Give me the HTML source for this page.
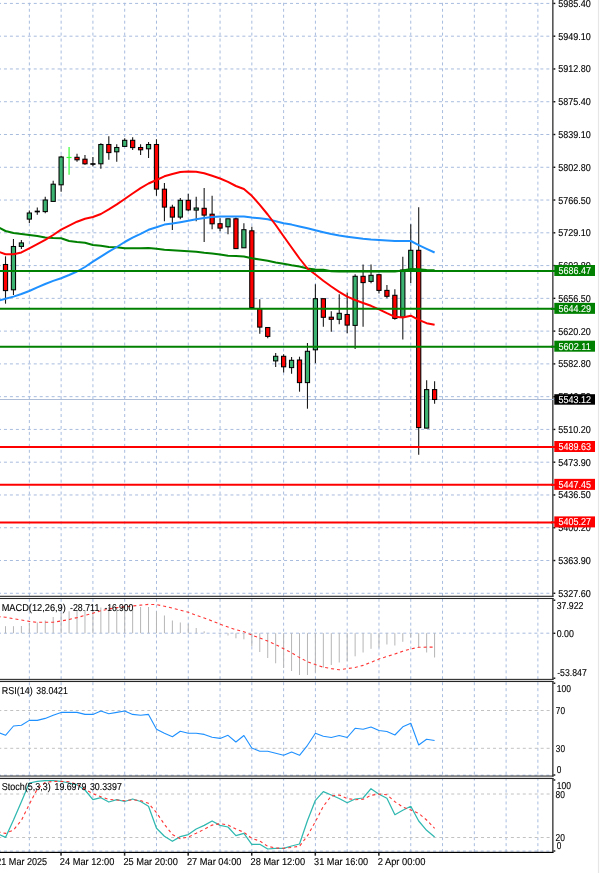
<!DOCTYPE html>
<html lang="en">
<head>
<meta charset="utf-8">
<title>Chart</title>
<style>
html,body{margin:0;padding:0;background:#fff;width:600px;height:873px;}
body{width:600px;height:873px;overflow:hidden;font-family:"Liberation Sans", Arial, sans-serif;}
svg{display:block;}
svg text{stroke:#000;stroke-width:0.12px;paint-order:stroke;}
svg text.w{stroke:#fff;stroke-width:0.1px;}
</style>
</head>
<body>
<svg width="600" height="873" viewBox="0 0 600 873" font-family='"Liberation Sans", Arial, sans-serif' font-size="10px" text-rendering="geometricPrecision">
<rect x="0" y="0" width="600" height="873" fill="#ffffff"/>
<g stroke="#a8bcde" stroke-width="1" stroke-dasharray="3 2.96" fill="none">
<line x1="29.35" y1="-3.16" x2="29.35" y2="852"/>
<line x1="61.13" y1="-3.16" x2="61.13" y2="852"/>
<line x1="92.92" y1="-3.16" x2="92.92" y2="852"/>
<line x1="124.70" y1="-3.16" x2="124.70" y2="852"/>
<line x1="156.49" y1="-3.16" x2="156.49" y2="852"/>
<line x1="188.27" y1="-3.16" x2="188.27" y2="852"/>
<line x1="220.05" y1="-3.16" x2="220.05" y2="852"/>
<line x1="251.84" y1="-3.16" x2="251.84" y2="852"/>
<line x1="283.62" y1="-3.16" x2="283.62" y2="852"/>
<line x1="315.41" y1="-3.16" x2="315.41" y2="852"/>
<line x1="347.19" y1="-3.16" x2="347.19" y2="852"/>
<line x1="378.97" y1="-3.16" x2="378.97" y2="852"/>
<line x1="410.76" y1="-3.16" x2="410.76" y2="852"/>
<line x1="442.54" y1="-3.16" x2="442.54" y2="852"/>
<line x1="474.33" y1="-3.16" x2="474.33" y2="852"/>
<line x1="506.11" y1="-3.16" x2="506.11" y2="852"/>
<line x1="537.89" y1="-3.16" x2="537.89" y2="852"/>
<line x1="-2" y1="3.42" x2="553.0" y2="3.42"/>
<line x1="-2" y1="36.19" x2="553.0" y2="36.19"/>
<line x1="-2" y1="68.96" x2="553.0" y2="68.96"/>
<line x1="-2" y1="101.73" x2="553.0" y2="101.73"/>
<line x1="-2" y1="134.50" x2="553.0" y2="134.50"/>
<line x1="-2" y1="167.27" x2="553.0" y2="167.27"/>
<line x1="-2" y1="200.04" x2="553.0" y2="200.04"/>
<line x1="-2" y1="232.81" x2="553.0" y2="232.81"/>
<line x1="-2" y1="265.58" x2="553.0" y2="265.58"/>
<line x1="-2" y1="298.35" x2="553.0" y2="298.35"/>
<line x1="-2" y1="331.12" x2="553.0" y2="331.12"/>
<line x1="-2" y1="363.89" x2="553.0" y2="363.89"/>
<line x1="-2" y1="396.66" x2="553.0" y2="396.66"/>
<line x1="-2" y1="429.43" x2="553.0" y2="429.43"/>
<line x1="-2" y1="462.20" x2="553.0" y2="462.20"/>
<line x1="-2" y1="494.97" x2="553.0" y2="494.97"/>
<line x1="-2" y1="527.74" x2="553.0" y2="527.74"/>
<line x1="-2" y1="560.51" x2="553.0" y2="560.51"/>
<line x1="-2" y1="593.28" x2="553.0" y2="593.28"/>
<line x1="-2" y1="633.20" x2="553.0" y2="633.20"/>
<line x1="-2" y1="775.20" x2="553.0" y2="775.20"/>
<line x1="-2" y1="851.10" x2="553.0" y2="851.10"/>
</g>
<g stroke="#c2c2c2" stroke-width="1" stroke-dasharray="3 2.96" fill="none">
<line x1="-1.7" y1="710.50" x2="553.0" y2="710.50"/>
<line x1="-1.7" y1="748.30" x2="553.0" y2="748.30"/>
<line x1="-1.7" y1="794.00" x2="553.0" y2="794.00"/>
<line x1="-1.7" y1="837.50" x2="553.0" y2="837.50"/>
</g>
<line x1="0" y1="399.5" x2="553.0" y2="399.5" stroke="#adbdd8" stroke-width="1"/>
<g>
<line x1="5.51" y1="256.3" x2="5.51" y2="303.7" stroke="#1a1a1a" stroke-width="1.1"/>
<rect x="3.41" y="264.50" width="4.2" height="26.10" fill="#ff0000" stroke="#000" stroke-width="1.05"/>
<line x1="13.46" y1="239.0" x2="13.46" y2="295.0" stroke="#1a1a1a" stroke-width="1.1"/>
<rect x="11.36" y="246.50" width="4.2" height="43.30" fill="#3cb371" stroke="#000" stroke-width="1.05"/>
<line x1="21.40" y1="240.0" x2="21.40" y2="249.0" stroke="#1a1a1a" stroke-width="1.1"/>
<rect x="19.30" y="242.90" width="4.2" height="3.50" fill="#3cb371" stroke="#000" stroke-width="1.05"/>
<line x1="29.35" y1="210.5" x2="29.35" y2="223.0" stroke="#1a1a1a" stroke-width="1.1"/>
<rect x="27.25" y="213.00" width="4.2" height="6.10" fill="#3cb371" stroke="#000" stroke-width="1.05"/>
<line x1="37.29" y1="207.5" x2="37.29" y2="214.7" stroke="#1a1a1a" stroke-width="1.1"/>
<line x1="34.69" y1="211.5" x2="39.89" y2="211.5" stroke="#000" stroke-width="1.7"/>
<line x1="45.24" y1="196.7" x2="45.24" y2="213.3" stroke="#1a1a1a" stroke-width="1.1"/>
<rect x="43.14" y="200.00" width="4.2" height="11.60" fill="#3cb371" stroke="#000" stroke-width="1.05"/>
<line x1="53.19" y1="180.8" x2="53.19" y2="201.3" stroke="#1a1a1a" stroke-width="1.1"/>
<rect x="51.09" y="184.20" width="4.2" height="17.20" fill="#3cb371" stroke="#000" stroke-width="1.05"/>
<line x1="61.13" y1="155.8" x2="61.13" y2="191.7" stroke="#1a1a1a" stroke-width="1.1"/>
<rect x="59.03" y="157.00" width="4.2" height="27.80" fill="#3cb371" stroke="#000" stroke-width="1.05"/>
<line x1="69.08" y1="147.0" x2="69.08" y2="174.7" stroke="#33ff33" stroke-width="1.2"/>
<line x1="66.58" y1="157.5" x2="71.58" y2="157.5" stroke="#33ff33" stroke-width="1.2"/>
<line x1="77.02" y1="153.8" x2="77.02" y2="161.7" stroke="#1a1a1a" stroke-width="1.1"/>
<rect x="74.92" y="157.30" width="4.2" height="2.50" fill="#ff0000" stroke="#000" stroke-width="1.05"/>
<line x1="84.97" y1="155.0" x2="84.97" y2="164.7" stroke="#1a1a1a" stroke-width="1.1"/>
<rect x="82.87" y="159.20" width="4.2" height="4.60" fill="#ff0000" stroke="#000" stroke-width="1.05"/>
<line x1="92.92" y1="157.0" x2="92.92" y2="166.2" stroke="#1a1a1a" stroke-width="1.1"/>
<line x1="90.32" y1="164.0" x2="95.52" y2="164.0" stroke="#000" stroke-width="1.7"/>
<line x1="100.86" y1="143.3" x2="100.86" y2="168.7" stroke="#1a1a1a" stroke-width="1.1"/>
<rect x="98.76" y="144.50" width="4.2" height="19.30" fill="#3cb371" stroke="#000" stroke-width="1.05"/>
<line x1="108.81" y1="136.2" x2="108.81" y2="159.7" stroke="#1a1a1a" stroke-width="1.1"/>
<rect x="106.71" y="144.50" width="4.2" height="8.10" fill="#ff0000" stroke="#000" stroke-width="1.05"/>
<line x1="116.75" y1="144.2" x2="116.75" y2="161.7" stroke="#1a1a1a" stroke-width="1.1"/>
<rect x="114.65" y="147.50" width="4.2" height="4.30" fill="#3cb371" stroke="#000" stroke-width="1.05"/>
<line x1="124.70" y1="138.3" x2="124.70" y2="146.3" stroke="#1a1a1a" stroke-width="1.1"/>
<rect x="122.60" y="140.30" width="4.2" height="6.10" fill="#3cb371" stroke="#000" stroke-width="1.05"/>
<line x1="132.65" y1="137.2" x2="132.65" y2="150.0" stroke="#1a1a1a" stroke-width="1.1"/>
<rect x="130.55" y="140.30" width="4.2" height="7.30" fill="#ff0000" stroke="#000" stroke-width="1.05"/>
<line x1="140.59" y1="144.2" x2="140.59" y2="155.0" stroke="#1a1a1a" stroke-width="1.1"/>
<rect x="138.49" y="147.50" width="4.2" height="2.30" fill="#ff0000" stroke="#000" stroke-width="1.05"/>
<line x1="148.54" y1="142.0" x2="148.54" y2="158.0" stroke="#1a1a1a" stroke-width="1.1"/>
<rect x="146.44" y="144.50" width="4.2" height="4.30" fill="#3cb371" stroke="#000" stroke-width="1.05"/>
<line x1="156.48" y1="139.2" x2="156.48" y2="195.8" stroke="#1a1a1a" stroke-width="1.1"/>
<rect x="154.38" y="144.50" width="4.2" height="44.60" fill="#ff0000" stroke="#000" stroke-width="1.05"/>
<line x1="164.43" y1="183.0" x2="164.43" y2="221.3" stroke="#1a1a1a" stroke-width="1.1"/>
<rect x="162.33" y="189.20" width="4.2" height="17.90" fill="#ff0000" stroke="#000" stroke-width="1.05"/>
<line x1="172.38" y1="204.7" x2="172.38" y2="230.0" stroke="#1a1a1a" stroke-width="1.1"/>
<rect x="170.28" y="207.20" width="4.2" height="9.90" fill="#ff0000" stroke="#000" stroke-width="1.05"/>
<line x1="180.32" y1="198.0" x2="180.32" y2="219.2" stroke="#1a1a1a" stroke-width="1.1"/>
<rect x="178.22" y="200.30" width="4.2" height="16.80" fill="#3cb371" stroke="#000" stroke-width="1.05"/>
<line x1="188.27" y1="193.8" x2="188.27" y2="211.3" stroke="#1a1a1a" stroke-width="1.1"/>
<rect x="186.17" y="200.30" width="4.2" height="9.60" fill="#ff0000" stroke="#000" stroke-width="1.05"/>
<line x1="196.21" y1="196.7" x2="196.21" y2="221.3" stroke="#1a1a1a" stroke-width="1.1"/>
<rect x="194.11" y="208.00" width="4.2" height="2.10" fill="#3cb371" stroke="#000" stroke-width="1.05"/>
<line x1="204.16" y1="188.0" x2="204.16" y2="242.0" stroke="#1a1a1a" stroke-width="1.1"/>
<rect x="202.06" y="208.30" width="4.2" height="6.80" fill="#ff0000" stroke="#000" stroke-width="1.05"/>
<line x1="212.11" y1="195.8" x2="212.11" y2="229.2" stroke="#1a1a1a" stroke-width="1.1"/>
<rect x="210.01" y="214.20" width="4.2" height="9.60" fill="#ff0000" stroke="#000" stroke-width="1.05"/>
<line x1="220.05" y1="218.3" x2="220.05" y2="231.3" stroke="#1a1a1a" stroke-width="1.1"/>
<rect x="217.95" y="223.70" width="4.2" height="4.40" fill="#ff0000" stroke="#000" stroke-width="1.05"/>
<line x1="228.00" y1="218.8" x2="228.00" y2="234.2" stroke="#1a1a1a" stroke-width="1.1"/>
<rect x="225.90" y="218.80" width="4.2" height="8.00" fill="#3cb371" stroke="#000" stroke-width="1.05"/>
<line x1="235.94" y1="217.5" x2="235.94" y2="248.5" stroke="#1a1a1a" stroke-width="1.1"/>
<rect x="233.84" y="218.80" width="4.2" height="29.80" fill="#ff0000" stroke="#000" stroke-width="1.05"/>
<line x1="243.89" y1="223.3" x2="243.89" y2="247.7" stroke="#1a1a1a" stroke-width="1.1"/>
<rect x="241.79" y="229.70" width="4.2" height="18.10" fill="#3cb371" stroke="#000" stroke-width="1.05"/>
<line x1="251.84" y1="226.7" x2="251.84" y2="309.0" stroke="#1a1a1a" stroke-width="1.1"/>
<rect x="249.74" y="230.80" width="4.2" height="76.80" fill="#ff0000" stroke="#000" stroke-width="1.05"/>
<line x1="259.78" y1="299.2" x2="259.78" y2="333.7" stroke="#1a1a1a" stroke-width="1.1"/>
<rect x="257.68" y="308.70" width="4.2" height="18.40" fill="#ff0000" stroke="#000" stroke-width="1.05"/>
<line x1="267.73" y1="327.5" x2="267.73" y2="338.3" stroke="#1a1a1a" stroke-width="1.1"/>
<rect x="265.63" y="327.50" width="4.2" height="8.90" fill="#ff0000" stroke="#000" stroke-width="1.05"/>
<line x1="275.67" y1="353.0" x2="275.67" y2="367.0" stroke="#1a1a1a" stroke-width="1.1"/>
<rect x="273.57" y="356.30" width="4.2" height="4.60" fill="#3cb371" stroke="#000" stroke-width="1.05"/>
<line x1="283.62" y1="354.2" x2="283.62" y2="372.5" stroke="#1a1a1a" stroke-width="1.1"/>
<rect x="281.52" y="356.30" width="4.2" height="10.50" fill="#ff0000" stroke="#000" stroke-width="1.05"/>
<line x1="291.57" y1="357.0" x2="291.57" y2="373.8" stroke="#1a1a1a" stroke-width="1.1"/>
<rect x="289.47" y="360.30" width="4.2" height="7.30" fill="#3cb371" stroke="#000" stroke-width="1.05"/>
<line x1="299.51" y1="356.7" x2="299.51" y2="391.7" stroke="#1a1a1a" stroke-width="1.1"/>
<rect x="297.41" y="360.00" width="4.2" height="22.60" fill="#ff0000" stroke="#000" stroke-width="1.05"/>
<line x1="307.46" y1="343.0" x2="307.46" y2="408.7" stroke="#1a1a1a" stroke-width="1.1"/>
<rect x="305.36" y="351.30" width="4.2" height="31.30" fill="#3cb371" stroke="#000" stroke-width="1.05"/>
<line x1="315.40" y1="284.2" x2="315.40" y2="363.3" stroke="#1a1a1a" stroke-width="1.1"/>
<rect x="313.30" y="298.70" width="4.2" height="51.10" fill="#3cb371" stroke="#000" stroke-width="1.05"/>
<line x1="323.35" y1="298.7" x2="323.35" y2="326.7" stroke="#1a1a1a" stroke-width="1.1"/>
<rect x="321.25" y="298.70" width="4.2" height="18.60" fill="#ff0000" stroke="#000" stroke-width="1.05"/>
<line x1="331.30" y1="311.3" x2="331.30" y2="331.7" stroke="#1a1a1a" stroke-width="1.1"/>
<rect x="329.20" y="317.20" width="4.2" height="2.10" fill="#ff0000" stroke="#000" stroke-width="1.05"/>
<line x1="339.24" y1="294.2" x2="339.24" y2="324.2" stroke="#1a1a1a" stroke-width="1.1"/>
<rect x="337.14" y="313.30" width="4.2" height="6.00" fill="#3cb371" stroke="#000" stroke-width="1.05"/>
<line x1="347.19" y1="292.5" x2="347.19" y2="333.3" stroke="#1a1a1a" stroke-width="1.1"/>
<rect x="345.09" y="314.50" width="4.2" height="10.60" fill="#ff0000" stroke="#000" stroke-width="1.05"/>
<line x1="355.13" y1="274.2" x2="355.13" y2="349.0" stroke="#1a1a1a" stroke-width="1.1"/>
<rect x="353.03" y="276.30" width="4.2" height="49.10" fill="#3cb371" stroke="#000" stroke-width="1.05"/>
<line x1="363.08" y1="264.5" x2="363.08" y2="326.7" stroke="#1a1a1a" stroke-width="1.1"/>
<rect x="360.98" y="276.30" width="4.2" height="6.30" fill="#ff0000" stroke="#000" stroke-width="1.05"/>
<line x1="371.03" y1="264.5" x2="371.03" y2="283.3" stroke="#1a1a1a" stroke-width="1.1"/>
<rect x="368.93" y="275.30" width="4.2" height="6.10" fill="#3cb371" stroke="#000" stroke-width="1.05"/>
<line x1="378.97" y1="274.7" x2="378.97" y2="293.5" stroke="#1a1a1a" stroke-width="1.1"/>
<rect x="376.87" y="274.70" width="4.2" height="15.70" fill="#ff0000" stroke="#000" stroke-width="1.05"/>
<line x1="386.92" y1="285.0" x2="386.92" y2="298.3" stroke="#1a1a1a" stroke-width="1.1"/>
<rect x="384.82" y="290.40" width="4.2" height="5.90" fill="#ff0000" stroke="#000" stroke-width="1.05"/>
<line x1="394.86" y1="289.2" x2="394.86" y2="319.7" stroke="#1a1a1a" stroke-width="1.1"/>
<rect x="392.76" y="295.30" width="4.2" height="23.10" fill="#ff0000" stroke="#000" stroke-width="1.05"/>
<line x1="402.81" y1="256.7" x2="402.81" y2="339.5" stroke="#1a1a1a" stroke-width="1.1"/>
<rect x="400.71" y="270.00" width="4.2" height="47.10" fill="#3cb371" stroke="#000" stroke-width="1.05"/>
<line x1="410.76" y1="224.2" x2="410.76" y2="283.0" stroke="#1a1a1a" stroke-width="1.1"/>
<rect x="408.66" y="250.30" width="4.2" height="20.30" fill="#3cb371" stroke="#000" stroke-width="1.05"/>
<line x1="418.70" y1="207.2" x2="418.70" y2="454.7" stroke="#1a1a1a" stroke-width="1.1"/>
<rect x="416.60" y="250.30" width="4.2" height="177.30" fill="#ff0000" stroke="#000" stroke-width="1.05"/>
<line x1="426.65" y1="380.3" x2="426.65" y2="428.3" stroke="#1a1a1a" stroke-width="1.1"/>
<rect x="424.55" y="389.60" width="4.2" height="38.50" fill="#3cb371" stroke="#000" stroke-width="1.05"/>
<line x1="434.59" y1="381.3" x2="434.59" y2="403.8" stroke="#1a1a1a" stroke-width="1.1"/>
<rect x="432.49" y="389.60" width="4.2" height="9.90" fill="#ff0000" stroke="#000" stroke-width="1.05"/>
</g>
<polyline points="-2.4,227.0 5.5,231.0 13.5,233.0 21.4,234.0 29.3,235.0 37.3,236.0 45.2,237.4 53.2,238.0 61.1,238.3 69.1,241.0 77.0,242.0 85.0,242.7 92.9,245.0 100.9,245.7 108.8,247.0 116.8,247.3 124.7,248.3 132.6,248.3 140.6,248.2 148.5,248.0 156.5,248.7 164.4,249.8 172.4,250.2 180.3,250.8 188.3,251.3 196.2,251.7 204.2,252.8 212.1,253.5 220.1,254.5 228.0,255.8 235.9,256.0 243.9,256.5 251.8,258.3 259.8,259.5 267.7,260.7 275.7,262.5 283.6,263.7 291.6,265.2 299.5,266.5 307.5,268.5 315.4,269.6 323.3,269.8 331.3,271.2 339.2,271.4 347.2,271.4 355.1,271.4 363.1,271.4 371.0,271.4 379.0,271.4 386.9,271.4 394.9,271.4 402.8,270.4 410.8,269.0 418.7,269.3 426.6,270.0 434.6,270.2" fill="none" stroke="#008000" stroke-width="2" stroke-linejoin="round" stroke-linecap="butt"/>
<polyline points="-2.4,301.0 5.5,298.8 13.5,296.6 21.4,294.0 29.3,291.0 37.3,287.3 45.2,284.0 53.2,280.9 61.1,278.2 69.1,275.0 77.0,271.5 85.0,267.0 92.9,261.7 100.9,256.6 108.8,251.7 116.8,247.0 124.7,242.0 132.6,237.7 140.6,233.9 148.5,229.8 156.5,227.3 164.4,224.6 172.4,223.6 180.3,222.2 188.3,220.8 196.2,219.2 204.2,217.9 212.1,216.9 220.1,216.5 228.0,216.5 235.9,216.5 243.9,216.5 251.8,217.5 259.8,218.3 267.7,219.3 275.7,221.3 283.6,223.2 291.6,224.6 299.5,226.4 307.5,228.2 315.4,230.3 323.3,232.2 331.3,234.0 339.2,235.5 347.2,236.7 355.1,237.8 363.1,238.8 371.0,239.6 379.0,240.0 386.9,240.5 394.9,241.0 402.8,241.0 410.8,241.0 418.7,245.2 426.6,248.8 434.6,252.5" fill="none" stroke="#1e90ff" stroke-width="2" stroke-linejoin="round" stroke-linecap="butt"/>
<polyline points="-2.4,251.3 5.5,254.3 13.5,254.2 21.4,252.4 29.3,248.4 37.3,244.2 45.2,239.9 53.2,235.0 61.1,229.6 69.1,225.7 77.0,221.7 85.0,218.7 92.9,217.0 100.9,214.0 108.8,209.4 116.8,204.4 124.7,199.0 132.6,193.5 140.6,188.2 148.5,183.5 156.5,180.0 164.4,176.3 172.4,174.0 180.3,172.0 188.3,171.5 196.2,171.7 204.2,173.3 212.1,175.8 220.1,178.5 228.0,181.8 235.9,186.0 243.9,189.0 251.8,195.8 259.8,204.8 267.7,214.5 275.7,225.0 283.6,236.3 291.6,247.5 299.5,258.5 307.5,268.5 315.4,274.5 323.3,280.8 331.3,286.5 339.2,291.8 347.2,296.7 355.1,300.0 363.1,303.0 371.0,305.8 379.0,309.3 386.9,313.2 394.9,316.8 402.8,317.5 410.8,315.7 418.7,319.8 426.6,323.2 434.6,324.7" fill="none" stroke="#ff0000" stroke-width="2" stroke-linejoin="round" stroke-linecap="butt"/>
<line x1="0" y1="271.0" x2="553.0" y2="271.0" stroke="#008000" stroke-width="2"/>
<line x1="0" y1="308.85" x2="553.0" y2="308.85" stroke="#008000" stroke-width="2"/>
<line x1="0" y1="346.7" x2="553.0" y2="346.7" stroke="#008000" stroke-width="2"/>
<line x1="0" y1="447.0" x2="553.0" y2="447.0" stroke="#ff0000" stroke-width="2"/>
<line x1="0" y1="484.85" x2="553.0" y2="484.85" stroke="#ff0000" stroke-width="2"/>
<line x1="0" y1="522.4" x2="553.0" y2="522.4" stroke="#ff0000" stroke-width="2"/>
<g stroke="#b6b6b6" stroke-width="1">
<line x1="5.51" y1="633.2" x2="5.51" y2="626.2"/>
<line x1="13.46" y1="633.2" x2="13.46" y2="626.2"/>
<line x1="21.40" y1="633.2" x2="21.40" y2="626.0"/>
<line x1="29.35" y1="633.2" x2="29.35" y2="623.0"/>
<line x1="37.29" y1="633.2" x2="37.29" y2="622.5"/>
<line x1="45.24" y1="633.2" x2="45.24" y2="620.5"/>
<line x1="53.19" y1="633.2" x2="53.19" y2="617.0"/>
<line x1="61.13" y1="633.2" x2="61.13" y2="613.0"/>
<line x1="69.08" y1="633.2" x2="69.08" y2="611.3"/>
<line x1="77.02" y1="633.2" x2="77.02" y2="610.5"/>
<line x1="84.97" y1="633.2" x2="84.97" y2="610.0"/>
<line x1="92.92" y1="633.2" x2="92.92" y2="609.5"/>
<line x1="100.86" y1="633.2" x2="100.86" y2="607.5"/>
<line x1="108.81" y1="633.2" x2="108.81" y2="607.0"/>
<line x1="116.75" y1="633.2" x2="116.75" y2="607.0"/>
<line x1="124.70" y1="633.2" x2="124.70" y2="605.5"/>
<line x1="132.65" y1="633.2" x2="132.65" y2="605.5"/>
<line x1="140.59" y1="633.2" x2="140.59" y2="607.0"/>
<line x1="148.54" y1="633.2" x2="148.54" y2="607.0"/>
<line x1="156.48" y1="633.2" x2="156.48" y2="611.3"/>
<line x1="164.43" y1="633.2" x2="164.43" y2="615.5"/>
<line x1="172.38" y1="633.2" x2="172.38" y2="620.5"/>
<line x1="180.32" y1="633.2" x2="180.32" y2="622.5"/>
<line x1="188.27" y1="633.2" x2="188.27" y2="623.8"/>
<line x1="196.21" y1="633.2" x2="196.21" y2="628.0"/>
<line x1="204.16" y1="633.2" x2="204.16" y2="631.3"/>
<line x1="220.05" y1="633.2" x2="220.05" y2="634.2"/>
<line x1="228.00" y1="633.2" x2="228.00" y2="635.5"/>
<line x1="235.94" y1="633.2" x2="235.94" y2="638.3"/>
<line x1="243.89" y1="633.2" x2="243.89" y2="639.3"/>
<line x1="251.84" y1="633.2" x2="251.84" y2="646.3"/>
<line x1="259.78" y1="633.2" x2="259.78" y2="652.0"/>
<line x1="267.73" y1="633.2" x2="267.73" y2="658.0"/>
<line x1="275.67" y1="633.2" x2="275.67" y2="663.3"/>
<line x1="283.62" y1="633.2" x2="283.62" y2="668.0"/>
<line x1="291.57" y1="633.2" x2="291.57" y2="671.0"/>
<line x1="299.51" y1="633.2" x2="299.51" y2="675.0"/>
<line x1="307.46" y1="633.2" x2="307.46" y2="675.0"/>
<line x1="315.40" y1="633.2" x2="315.40" y2="672.5"/>
<line x1="323.35" y1="633.2" x2="323.35" y2="667.5"/>
<line x1="331.30" y1="633.2" x2="331.30" y2="665.0"/>
<line x1="339.24" y1="633.2" x2="339.24" y2="662.5"/>
<line x1="347.19" y1="633.2" x2="347.19" y2="661.3"/>
<line x1="355.13" y1="633.2" x2="355.13" y2="656.3"/>
<line x1="363.08" y1="633.2" x2="363.08" y2="652.5"/>
<line x1="371.03" y1="633.2" x2="371.03" y2="648.8"/>
<line x1="378.97" y1="633.2" x2="378.97" y2="647.5"/>
<line x1="386.92" y1="633.2" x2="386.92" y2="644.5"/>
<line x1="394.86" y1="633.2" x2="394.86" y2="645.5"/>
<line x1="402.81" y1="633.2" x2="402.81" y2="641.8"/>
<line x1="410.76" y1="633.2" x2="410.76" y2="637.5"/>
<line x1="418.70" y1="633.2" x2="418.70" y2="647.5"/>
<line x1="426.65" y1="633.2" x2="426.65" y2="652.5"/>
<line x1="434.59" y1="633.2" x2="434.59" y2="657.5"/>
</g>
<polyline points="-2.4,616.6 5.5,617.2 13.5,618.7 21.4,620.0 29.3,621.4 37.3,622.3 45.2,622.3 53.2,622.2 61.1,621.0 69.1,619.5 77.0,617.6 85.0,615.4 92.9,613.2 100.9,610.8 108.8,609.0 116.8,607.6 124.7,606.8 132.6,606.0 140.6,605.1 148.5,604.4 156.5,604.6 164.4,606.2 172.4,608.1 180.3,610.2 188.3,612.2 196.2,615.3 204.2,618.0 212.1,621.0 220.1,624.2 228.0,627.0 235.9,629.7 243.9,631.8 251.8,635.0 259.8,638.0 267.7,641.1 275.7,644.6 283.6,648.7 291.6,652.8 299.5,657.6 307.5,661.7 315.4,664.6 323.3,667.2 331.3,668.6 339.2,669.8 347.2,668.6 355.1,667.5 363.1,665.4 371.0,662.3 379.0,659.0 386.9,656.5 394.9,654.0 402.8,651.2 410.8,648.9 418.7,647.3 426.6,647.1 434.6,647.1" fill="none" stroke="#ff3535" stroke-width="1.1" stroke-linejoin="round" stroke-linecap="butt" stroke-dasharray="3 3"/>
<polyline points="-2.4,732.2 5.5,735.3 13.5,726.0 21.4,725.3 29.3,720.4 37.3,720.4 45.2,718.4 53.2,715.3 61.1,712.4 69.1,712.4 77.0,712.4 85.0,714.4 92.9,714.4 100.9,711.0 108.8,713.7 116.8,712.4 124.7,711.0 132.6,714.4 140.6,715.3 148.5,714.4 156.5,729.3 164.4,733.3 172.4,736.7 180.3,731.3 188.3,733.3 196.2,733.3 204.2,734.4 212.1,737.3 220.1,738.4 228.0,735.3 235.9,742.0 243.9,735.5 251.8,748.0 259.8,751.3 267.7,751.3 275.7,753.3 283.6,755.3 291.6,752.0 299.5,755.3 307.5,745.3 315.4,733.3 323.3,736.3 331.3,737.5 339.2,735.5 347.2,737.5 355.1,728.3 363.1,729.3 371.0,727.0 379.0,730.5 386.9,731.5 394.9,735.0 402.8,726.8 410.8,723.3 418.7,745.0 426.6,739.3 434.6,740.5" fill="none" stroke="#1e90ff" stroke-width="1.1" stroke-linejoin="round" stroke-linecap="butt"/>
<polyline points="-2.4,833.8 5.5,837.4 13.5,820.1 21.4,801.8 29.3,783.0 37.3,781.3 45.2,780.6 53.2,780.6 61.1,781.4 69.1,783.0 77.0,784.8 85.0,790.0 92.9,799.7 100.9,797.7 108.8,802.0 116.8,799.7 124.7,801.5 132.6,799.0 140.6,801.5 148.5,806.3 156.5,828.3 164.4,836.3 172.4,841.3 180.3,836.6 188.3,834.6 196.2,829.0 204.2,825.4 212.1,821.0 220.1,825.4 228.0,827.0 235.9,835.7 243.9,833.3 251.8,844.3 259.8,844.3 267.7,849.0 275.7,848.3 283.6,848.3 291.6,846.0 299.5,844.0 307.5,820.5 315.4,800.3 323.3,791.7 331.3,795.0 339.2,798.5 347.2,802.7 355.1,799.0 363.1,798.0 371.0,788.7 379.0,794.3 386.9,798.3 394.9,814.7 402.8,810.3 410.8,806.3 418.7,821.0 426.6,830.3 434.6,837.0" fill="none" stroke="#2fb8b0" stroke-width="1.25" stroke-linejoin="round" stroke-linecap="butt"/>
<polyline points="-2.4,831.8 5.5,833.4 13.5,830.0 21.4,820.3 29.3,804.3 37.3,789.0 45.2,782.3 53.2,781.4 61.1,781.4 69.1,781.7 77.0,784.3 85.0,789.3 92.9,793.7 100.9,796.7 108.8,799.4 116.8,800.0 124.7,800.7 132.6,799.8 140.6,800.6 148.5,803.3 156.5,812.7 164.4,824.3 172.4,834.6 180.3,838.7 188.3,837.0 196.2,833.3 204.2,829.3 212.1,825.1 220.1,823.7 228.0,825.0 235.9,829.0 243.9,832.3 251.8,838.3 259.8,841.0 267.7,846.3 275.7,848.0 283.6,848.3 291.6,847.4 299.5,846.3 307.5,835.7 315.4,821.7 323.3,806.3 331.3,796.0 339.2,795.0 347.2,798.6 355.1,799.7 363.1,799.3 371.0,795.3 379.0,794.0 386.9,794.7 394.9,801.7 402.8,807.0 410.8,810.0 418.7,813.4 426.6,820.0 434.6,828.3" fill="none" stroke="#ff3535" stroke-width="1.1" stroke-linejoin="round" stroke-linecap="butt" stroke-dasharray="3 3"/>
<rect x="553.0" y="0" width="47.0" height="873" fill="#fff"/>
<rect x="0" y="852.0" width="600" height="21.0" fill="#fff"/>
<line x1="598.5" y1="0" x2="598.5" y2="873" stroke="#e6e6e6" stroke-width="1.2"/>
<rect x="552.2" y="0" width="1.3" height="596.80" fill="#2e2e2e"/>
<rect x="552.2" y="598.0" width="1.3" height="81.90" fill="#2e2e2e"/>
<rect x="552.2" y="681.0" width="1.3" height="95.60" fill="#2e2e2e"/>
<rect x="552.2" y="778.0" width="1.3" height="74.60" fill="#2e2e2e"/>
<rect x="0" y="595.75" width="553.5" height="1.1" fill="#262626"/>
<rect x="0" y="597.95" width="553.5" height="1.1" fill="#262626"/>
<rect x="0" y="678.85" width="553.5" height="1.1" fill="#262626"/>
<rect x="0" y="680.95" width="553.5" height="1.1" fill="#262626"/>
<rect x="0" y="775.55" width="553.5" height="1.1" fill="#262626"/>
<rect x="0" y="777.95" width="553.5" height="1.1" fill="#262626"/>
<rect x="0" y="679.95" width="552.2" height="1" fill="#d4d4d4"/>
<rect x="0" y="776.80" width="552.2" height="1" fill="#d4d4d4"/>
<rect x="0" y="851.8" width="553.5" height="1.2" fill="#000"/>
<g fill="#000">
<rect x="553.4" y="2.72" width="1.9" height="1.4" fill="#111"/>
<text x="558.3" y="6.50" textLength="32.6" lengthAdjust="spacingAndGlyphs">5985.40</text>
<rect x="553.4" y="35.49" width="1.9" height="1.4" fill="#111"/>
<text x="558.3" y="40.00" textLength="32.6" lengthAdjust="spacingAndGlyphs">5949.10</text>
<rect x="553.4" y="68.26" width="1.9" height="1.4" fill="#111"/>
<text x="558.3" y="72.00" textLength="32.6" lengthAdjust="spacingAndGlyphs">5912.80</text>
<rect x="553.4" y="101.03" width="1.9" height="1.4" fill="#111"/>
<text x="558.3" y="105.00" textLength="32.6" lengthAdjust="spacingAndGlyphs">5875.40</text>
<rect x="553.4" y="133.80" width="1.9" height="1.4" fill="#111"/>
<text x="558.3" y="138.00" textLength="32.6" lengthAdjust="spacingAndGlyphs">5839.10</text>
<rect x="553.4" y="166.57" width="1.9" height="1.4" fill="#111"/>
<text x="558.3" y="171.00" textLength="32.6" lengthAdjust="spacingAndGlyphs">5802.80</text>
<rect x="553.4" y="199.34" width="1.9" height="1.4" fill="#111"/>
<text x="558.3" y="204.00" textLength="32.6" lengthAdjust="spacingAndGlyphs">5766.50</text>
<rect x="553.4" y="232.11" width="1.9" height="1.4" fill="#111"/>
<text x="558.3" y="236.00" textLength="32.6" lengthAdjust="spacingAndGlyphs">5729.10</text>
<rect x="553.4" y="264.88" width="1.9" height="1.4" fill="#111"/>
<text x="558.3" y="269.00" textLength="32.6" lengthAdjust="spacingAndGlyphs">5692.80</text>
<rect x="553.4" y="297.65" width="1.9" height="1.4" fill="#111"/>
<text x="558.3" y="302.00" textLength="32.6" lengthAdjust="spacingAndGlyphs">5656.50</text>
<rect x="553.4" y="330.42" width="1.9" height="1.4" fill="#111"/>
<text x="558.3" y="335.00" textLength="32.6" lengthAdjust="spacingAndGlyphs">5620.20</text>
<rect x="553.4" y="363.19" width="1.9" height="1.4" fill="#111"/>
<text x="558.3" y="367.00" textLength="32.6" lengthAdjust="spacingAndGlyphs">5582.80</text>
<rect x="553.4" y="395.96" width="1.9" height="1.4" fill="#111"/>
<text x="558.3" y="400.00" textLength="32.6" lengthAdjust="spacingAndGlyphs">5546.50</text>
<rect x="553.4" y="428.73" width="1.9" height="1.4" fill="#111"/>
<text x="558.3" y="433.00" textLength="32.6" lengthAdjust="spacingAndGlyphs">5510.20</text>
<rect x="553.4" y="461.50" width="1.9" height="1.4" fill="#111"/>
<text x="558.3" y="466.00" textLength="32.6" lengthAdjust="spacingAndGlyphs">5473.90</text>
<rect x="553.4" y="494.27" width="1.9" height="1.4" fill="#111"/>
<text x="558.3" y="498.00" textLength="32.6" lengthAdjust="spacingAndGlyphs">5436.50</text>
<rect x="553.4" y="527.04" width="1.9" height="1.4" fill="#111"/>
<text x="558.3" y="531.00" textLength="32.6" lengthAdjust="spacingAndGlyphs">5400.20</text>
<rect x="553.4" y="559.81" width="1.9" height="1.4" fill="#111"/>
<text x="558.3" y="564.00" textLength="32.6" lengthAdjust="spacingAndGlyphs">5363.90</text>
<rect x="553.4" y="592.58" width="1.9" height="1.4" fill="#111"/>
<text x="558.3" y="597.00" textLength="32.6" lengthAdjust="spacingAndGlyphs">5327.60</text>
</g>
<rect x="551" y="270.00" width="4" height="2" fill="#008000"/>
<rect x="554.3" y="265.00" width="40.7" height="11.0" fill="#008000"/>
<text class="w" x="558.4" y="274.00" fill="#fff" textLength="32.5" lengthAdjust="spacingAndGlyphs">5686.47</text>
<rect x="551" y="307.85" width="4" height="2" fill="#008000"/>
<rect x="554.3" y="302.85" width="40.7" height="11.0" fill="#008000"/>
<text class="w" x="558.4" y="311.85" fill="#fff" textLength="32.5" lengthAdjust="spacingAndGlyphs">5644.29</text>
<rect x="551" y="345.70" width="4" height="2" fill="#008000"/>
<rect x="554.3" y="340.70" width="40.7" height="11.0" fill="#008000"/>
<text class="w" x="558.4" y="349.70" fill="#fff" textLength="32.5" lengthAdjust="spacingAndGlyphs">5602.11</text>
<rect x="551" y="446.00" width="4" height="2" fill="#ff0000"/>
<rect x="554.3" y="441.00" width="40.7" height="11.0" fill="#ff0000"/>
<text class="w" x="558.4" y="450.00" fill="#fff" textLength="32.5" lengthAdjust="spacingAndGlyphs">5489.63</text>
<rect x="551" y="483.85" width="4" height="2" fill="#ff0000"/>
<rect x="554.3" y="478.85" width="40.7" height="11.0" fill="#ff0000"/>
<text class="w" x="558.4" y="487.85" fill="#fff" textLength="32.5" lengthAdjust="spacingAndGlyphs">5447.45</text>
<rect x="551" y="521.40" width="4" height="2" fill="#ff0000"/>
<rect x="554.3" y="516.40" width="40.7" height="11.0" fill="#ff0000"/>
<text class="w" x="558.4" y="525.40" fill="#fff" textLength="32.5" lengthAdjust="spacingAndGlyphs">5405.27</text>
<rect x="551" y="399.0" width="4" height="1" fill="#adbdd8"/>
<rect x="554.3" y="394.20" width="40.7" height="10.5" fill="#000"/>
<text class="w" x="558.4" y="402.60" fill="#fff" textLength="32.5" lengthAdjust="spacingAndGlyphs">5543.12</text>
<text x="556.7" y="609.30" fill="#000" textLength="26.8" lengthAdjust="spacingAndGlyphs">37.922</text>
<text x="556.7" y="636.80" fill="#000" textLength="17.2" lengthAdjust="spacingAndGlyphs">0.00</text>
<text x="557.2" y="676.30" fill="#000" textLength="29.6" lengthAdjust="spacingAndGlyphs">-53.847</text>
<text x="556.7" y="692.20" fill="#000" textLength="14.2" lengthAdjust="spacingAndGlyphs">100</text>
<text x="555.8" y="714.00" fill="#000" textLength="9.2" lengthAdjust="spacingAndGlyphs">70</text>
<text x="555.8" y="751.80" fill="#000" textLength="9.2" lengthAdjust="spacingAndGlyphs">30</text>
<text x="556.7" y="773.00" fill="#000" textLength="4.6" lengthAdjust="spacingAndGlyphs">0</text>
<text x="556.7" y="789.00" fill="#000" textLength="14.2" lengthAdjust="spacingAndGlyphs">100</text>
<text x="555.6" y="797.80" fill="#000" textLength="9.4" lengthAdjust="spacingAndGlyphs">80</text>
<text x="555.6" y="841.00" fill="#000" textLength="9.4" lengthAdjust="spacingAndGlyphs">20</text>
<text x="556.7" y="849.30" fill="#000" textLength="4.6" lengthAdjust="spacingAndGlyphs">0</text>
<rect x="553.4" y="599.50" width="1.9" height="1.4" fill="#111"/>
<rect x="553.4" y="632.60" width="1.9" height="1.4" fill="#111"/>
<rect x="553.4" y="677.50" width="1.9" height="1.4" fill="#111"/>
<rect x="553.4" y="682.50" width="1.9" height="1.4" fill="#111"/>
<rect x="553.4" y="774.30" width="1.9" height="1.4" fill="#111"/>
<rect x="553.4" y="779.30" width="1.9" height="1.4" fill="#111"/>
<rect x="553.4" y="850.30" width="1.9" height="1.4" fill="#111"/>
<text x="1.7" y="611" fill="#000" textLength="64.1" lengthAdjust="spacingAndGlyphs">MACD(12,26,9)</text>
<text x="70.0" y="611" fill="#000" textLength="29.3" lengthAdjust="spacingAndGlyphs">-28.711</text>
<text x="104.4" y="611" fill="#000" textLength="28.9" lengthAdjust="spacingAndGlyphs">-16.900</text>
<text x="1.8" y="694" fill="#000" textLength="30.9" lengthAdjust="spacingAndGlyphs">RSI(14)</text>
<text x="36.3" y="694" fill="#000" textLength="31.5" lengthAdjust="spacingAndGlyphs">38.0421</text>
<text x="1.8" y="790" fill="#000" textLength="48.9" lengthAdjust="spacingAndGlyphs">Stoch(5,3,3)</text>
<text x="54.5" y="790" fill="#000" textLength="31.8" lengthAdjust="spacingAndGlyphs">19.6979</text>
<text x="89.9" y="790" fill="#000" textLength="32.0" lengthAdjust="spacingAndGlyphs">30.3397</text>
<text x="-3.74" y="865.0" fill="#000" textLength="50.9" lengthAdjust="spacingAndGlyphs">21 Mar 2025</text>
<rect x="60.28" y="852.5" width="1.5" height="3.2" fill="#222"/>
<text x="59.83" y="865.0" fill="#000" textLength="54.5" lengthAdjust="spacingAndGlyphs">24 Mar 12:00</text>
<rect x="123.85" y="852.5" width="1.5" height="3.2" fill="#222"/>
<text x="123.40" y="865.0" fill="#000" textLength="54.5" lengthAdjust="spacingAndGlyphs">25 Mar 20:00</text>
<rect x="187.42" y="852.5" width="1.5" height="3.2" fill="#222"/>
<text x="186.97" y="865.0" fill="#000" textLength="54.5" lengthAdjust="spacingAndGlyphs">27 Mar 04:00</text>
<rect x="250.99" y="852.5" width="1.5" height="3.2" fill="#222"/>
<text x="250.54" y="865.0" fill="#000" textLength="54.5" lengthAdjust="spacingAndGlyphs">28 Mar 12:00</text>
<rect x="314.55" y="852.5" width="1.5" height="3.2" fill="#222"/>
<text x="314.10" y="865.0" fill="#000" textLength="54.0" lengthAdjust="spacingAndGlyphs">31 Mar 16:00</text>
<rect x="378.12" y="852.5" width="1.5" height="3.2" fill="#222"/>
<text x="377.67" y="865.0" fill="#000" textLength="47.8" lengthAdjust="spacingAndGlyphs">2 Apr 00:00</text>
</svg>
</body>
</html>
